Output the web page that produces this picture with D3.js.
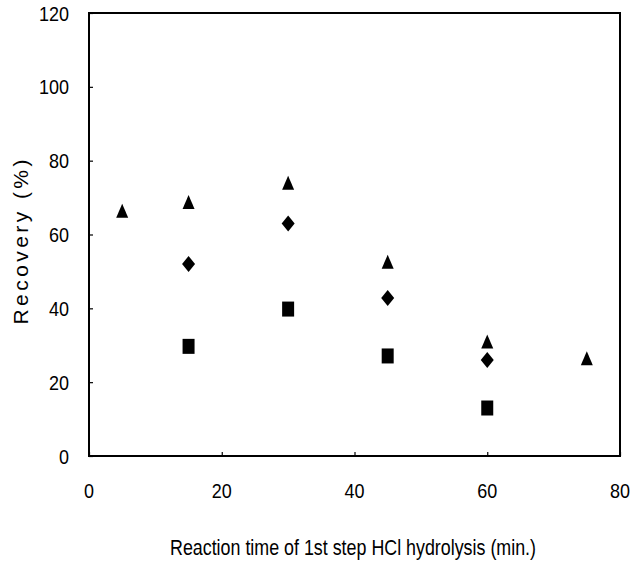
<!DOCTYPE html>
<html><head><meta charset="utf-8">
<script src="https://cdn.jsdelivr.net/npm/d3@7"></script>
<style>body{margin:0;background:#fff}svg{display:block}text{font-family:"Liberation Sans Narrow","Arial Narrow","Liberation Sans",sans-serif;fill:#000}</style>
</head><body><svg id="c" width="632" height="569"></svg>
<script>
const xTicks = [0, 20, 40, 60, 80];
const yTicks = [0, 20, 40, 60, 80, 100, 120];
const triX = [5, 15, 30, 45, 60, 75];
const triY = [66.4, 68.8, 74, 52.6, 31, 26.5];
const diaX = [15, 30, 45, 60];
const diaY = [52, 63, 42.8, 26];
const sqX = [15, 30, 45, 60];
const sqY = [29.7, 39.8, 27.1, 13];
const xTitle = "Reaction time of 1st step HCl hydrolysis (min.)";
const yTitle = "Recovery (%)";

const svg = d3.select("#c");
const L = 89, R = 620, T = 13, B = 456;
const x = d3.scaleLinear().domain([0, 80]).range([L, R]);
const y = d3.scaleLinear().domain([0, 120]).range([B, T]);

const gx = svg.append("g").attr("transform", `translate(0,${B})`)
  .call(d3.axisTop(x).tickValues(xTicks).tickSize(4).tickFormat(""));
const gy = svg.append("g").attr("transform", `translate(${L},0)`)
  .call(d3.axisRight(y).tickValues(yTicks).tickSize(4).tickFormat(""));
[gx, gy].forEach(g => { g.select(".domain").remove(); g.selectAll("line").attr("stroke", "#000").attr("stroke-width", 1.2); });

svg.append("rect").attr("x", L).attr("y", T).attr("width", R - L).attr("height", B - T)
  .attr("fill", "none").attr("stroke", "#000").attr("stroke-width", 2);

svg.append("g").selectAll("text").data(xTicks).join("text")
  .attr("x", d => x(d)).attr("y", 498).attr("text-anchor", "middle")
  .attr("font-size", 21).attr("textLength", d => String(d).length * 10)
  .attr("lengthAdjust", "spacingAndGlyphs").text(d => d);
svg.append("g").selectAll("text").data(yTicks).join("text")
  .attr("x", 69).attr("y", d => y(d) + 7.5).attr("text-anchor", "end")
  .attr("font-size", 21).attr("textLength", d => String(d).length * 10)
  .attr("lengthAdjust", "spacingAndGlyphs").text(d => d);

svg.append("text").attr("x", 353).attr("y", 555).attr("text-anchor", "middle")
  .attr("font-size", 22).attr("textLength", 366).attr("lengthAdjust", "spacingAndGlyphs").text(xTitle);
svg.append("text").attr("transform", "translate(28,242) rotate(-90)").attr("text-anchor", "middle")
  .attr("font-size", 21).attr("textLength", 165).attr("lengthAdjust", "spacing").text(yTitle);

const tri = "M0,-7L6,7L-6,7Z";
const dia = "M0,-8L6.5,0L0,8L-6.5,0Z";
const sq = "M-6,-7.5L6,-7.5L6,7.5L-6,7.5Z";
function draw(xs, ys, p) {
  svg.append("g").selectAll("path").data(xs.map((v, i) => [v, ys[i]])).join("path")
    .attr("d", p).attr("fill", "#000")
    .attr("transform", d => `translate(${x(d[0])},${y(d[1])})`);
}
draw(triX, triY, tri);
draw(diaX, diaY, dia);
draw(sqX, sqY, sq);
</script></body></html>
